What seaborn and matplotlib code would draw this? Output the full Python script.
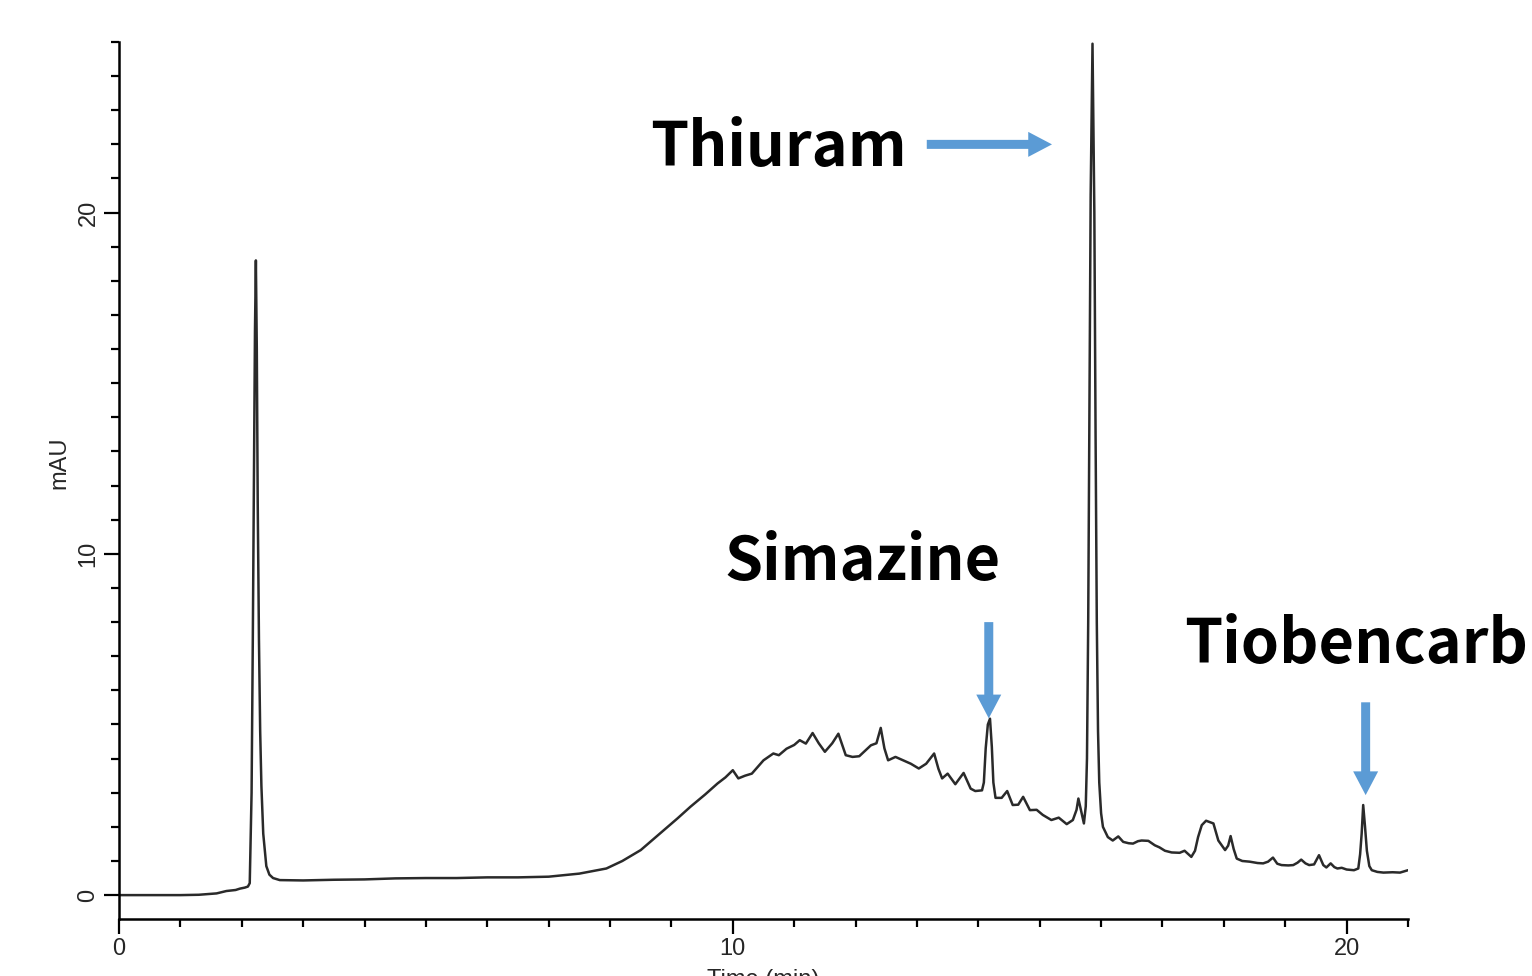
import matplotlib
matplotlib.use("Agg")
import matplotlib.pyplot as plt
import seaborn as sns
import pandas as pd

# ---- data ----
time_min = [
    0.0, 0.5, 1.0, 1.3, 1.59, 1.75, 1.9, 1.97, 2.05, 2.10, 2.13, 2.16, 2.18, 2.20,
    2.215, 2.23, 2.245, 2.26, 2.28, 2.30, 2.32, 2.35, 2.40, 2.45, 2.51, 2.62,
    3.0, 3.5, 4.0, 4.5, 5.0, 5.5, 6.0, 6.5, 7.0, 7.5, 7.94, 8.2, 8.5, 8.875,
    9.1, 9.31, 9.55, 9.75, 9.88, 10.0, 10.09, 10.2, 10.31, 10.5, 10.66, 10.75,
    10.875, 11.0, 11.09, 11.19, 11.3, 11.4, 11.5, 11.62, 11.72, 11.84, 11.95,
    12.06, 12.25, 12.34, 12.41, 12.47, 12.53, 12.65, 12.75, 12.9, 13.03, 13.15,
    13.28, 13.35, 13.41, 13.5, 13.625, 13.76, 13.875, 13.95, 14.06, 14.09,
    14.12, 14.155, 14.19, 14.22, 14.245, 14.28, 14.38, 14.47, 14.56, 14.65,
    14.73, 14.84, 14.95, 15.05, 15.19, 15.31, 15.44, 15.54, 15.60, 15.63,
    15.67, 15.72, 15.75, 15.77, 15.79, 15.81, 15.83, 15.86, 15.89, 15.91,
    15.93, 15.95, 15.97, 16.00, 16.03, 16.11, 16.19, 16.28, 16.36, 16.45,
    16.52, 16.60, 16.66, 16.77, 16.875, 16.95, 17.04, 17.15, 17.28, 17.36,
    17.47, 17.53, 17.58, 17.64, 17.71, 17.83, 17.91, 18.02, 18.07, 18.11,
    18.16, 18.21, 18.3, 18.42, 18.55, 18.64, 18.72, 18.80, 18.87, 18.94,
    19.05, 19.13, 19.2, 19.26, 19.33, 19.39, 19.47, 19.55, 19.62, 19.67,
    19.74, 19.80, 19.85, 19.92, 20.00, 20.12, 20.19, 20.22, 20.245, 20.27,
    20.30, 20.33, 20.37, 20.41, 20.50, 20.60, 20.75, 20.87, 21.0,
]
signal_mau = [
    0.0, 0.0, 0.0, 0.01, 0.05, 0.12, 0.15, 0.19, 0.22, 0.25, 0.35, 3.0, 7.5, 12.5,
    16.5, 18.6, 16.0, 11.5, 7.5, 4.8, 3.2, 1.8, 0.85, 0.6, 0.5, 0.44,
    0.43, 0.45, 0.46, 0.49, 0.50, 0.50, 0.52, 0.52, 0.54, 0.63, 0.78, 1.0, 1.32, 1.90,
    2.25, 2.59, 2.95, 3.27, 3.45, 3.66, 3.42, 3.50, 3.56, 3.95, 4.15, 4.10,
    4.29, 4.40, 4.54, 4.44, 4.75, 4.45, 4.20, 4.45, 4.73, 4.10, 4.05,
    4.07, 4.39, 4.45, 4.90, 4.30, 3.95, 4.05, 3.97, 3.85, 3.71, 3.85,
    4.15, 3.70, 3.42, 3.56, 3.25, 3.58, 3.12, 3.05, 3.07, 3.30,
    4.30, 5.00, 5.17, 4.34, 3.30, 2.85, 2.85, 3.05, 2.64, 2.65,
    2.88, 2.49, 2.50, 2.35, 2.20, 2.27, 2.08, 2.20, 2.50, 2.83,
    2.50, 2.10, 2.60, 4.0, 8.0, 14.0, 20.5, 24.95, 20.0, 13.5,
    8.0, 4.8, 3.3, 2.4, 2.0, 1.7, 1.6, 1.72, 1.56, 1.52,
    1.51, 1.58, 1.60, 1.59, 1.46, 1.40, 1.30, 1.25, 1.24, 1.30,
    1.12, 1.30, 1.70, 2.05, 2.18, 2.10, 1.60, 1.32, 1.45, 1.73,
    1.35, 1.07, 1.00, 0.98, 0.94, 0.93, 0.98, 1.10, 0.92, 0.88,
    0.87, 0.88, 0.95, 1.04, 0.93, 0.88, 0.90, 1.17, 0.88, 0.81,
    0.93, 0.82, 0.78, 0.80, 0.75, 0.73, 0.78, 1.20, 1.80, 2.64,
    2.00, 1.30, 0.85, 0.73, 0.68, 0.66, 0.67, 0.66, 0.73,
]
x_ticks = [0, 10, 20]
y_ticks = [0, 10, 20]
peak_labels = ["Thiuram", "Simazine", "Tiobencarb"]

df = pd.DataFrame({"Time (min)": time_min, "mAU": signal_mau})

# ---- style ----
sns.set_theme(style="ticks")
plt.rcParams["font.family"] = ["Liberation Sans", "DejaVu Sans"]

fig = plt.figure(figsize=(15.32, 9.76), dpi=100)
ax = fig.add_axes([119 / 1532, 1 - 919 / 976, (1408 - 119) / 1532, (919 - 42) / 976])

sns.lineplot(data=df, x="Time (min)", y="mAU", ax=ax, color="#2a2a2a",
             linewidth=1.8, estimator=None, sort=False)
ax.lines[0].set_solid_joinstyle("round")

ax.set_xlim(0, 21)
ax.set_ylim(-0.7, 25)
ax.set_xticks(x_ticks)
ax.set_yticks(y_ticks)
ax.set_xticks(range(0, 22), minor=True)
ax.set_yticks(range(0, 26), minor=True)
ax.set_xticklabels([str(v) for v in x_ticks], fontsize=17)
ax.set_yticklabels([str(v) for v in y_ticks], fontsize=17, rotation=90, va="center")
ax.tick_params(axis="both", which="major", direction="out", length=11, width=1.6,
               color="black", pad=3)
ax.tick_params(axis="both", which="minor", direction="out", length=6, width=1.6,
               color="black")
for s in ["top", "right"]:
    ax.spines[s].set_visible(False)
for s in ["left", "bottom"]:
    ax.spines[s].set_linewidth(1.8)
    ax.spines[s].set_color("black")

ax.set_xlabel("Time (min)", fontsize=17, labelpad=6)
ax.set_ylabel("mAU", fontsize=17)
ax.yaxis.set_label_coords(-0.038, 0.52)

# ---- annotations ----
label_font = dict(family=["Noto Sans CJK JP", "DejaVu Sans"], weight="bold",
                  fontsize=44, color="black")
ax.text(8.65, 21.38, peak_labels[0], ha="left", va="baseline", **label_font)
ax.text(9.87, 9.22, peak_labels[1], ha="left", va="baseline", **label_font)
ax.text(17.36, 6.79, peak_labels[2], ha="left", va="baseline", clip_on=False,
        **label_font)

arrow_color = "#5B9BD5"
astyle = "simple,head_length=0.95,head_width=1.0,tail_width=0.36"
arrow_kw = dict(arrowstyle=astyle, color=arrow_color, mutation_scale=18,
                shrinkA=0, shrinkB=0, lw=0)
ax.annotate("", xy=(15.2, 22.0), xytext=(13.16, 22.0), arrowprops=arrow_kw)
ax.annotate("", xy=(14.17, 5.18), xytext=(14.17, 8.0), arrowprops=arrow_kw)
ax.annotate("", xy=(20.31, 2.93), xytext=(20.31, 5.65), arrowprops=arrow_kw)

fig.savefig("out.png", dpi=100)
